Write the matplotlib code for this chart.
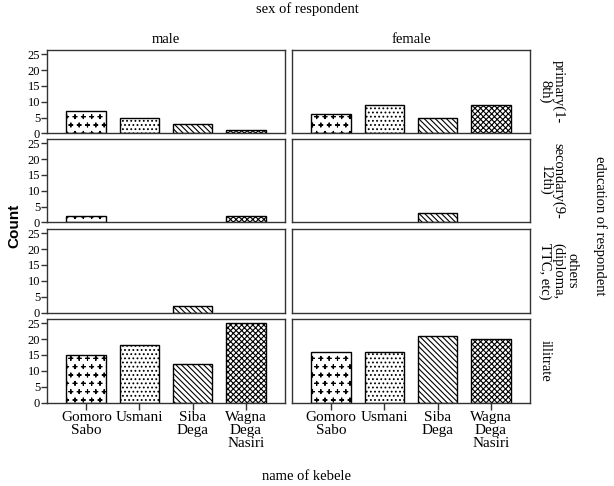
import warnings
import matplotlib.pyplot as plt
import matplotlib.hatch as mhatch
from matplotlib.path import Path
import numpy as np

warnings.filterwarnings('ignore')
plt.rcParams['font.family'] = ['Liberation Serif', 'DejaVu Serif']
plt.rcParams['hatch.linewidth'] = 0.8


# spaced plus signs, like the SPSS pattern (not a grid)
class Pluses(mhatch.Shapes):
    filled = False
    size = 0.45

    def __init__(self, hatch, density):
        self.num_rows = hatch.count('p') * density
        self.shape_vertices = np.array([[-0.5, 0], [0.5, 0], [0, -0.5], [0, 0.5]])
        self.shape_codes = np.array([Path.MOVETO, Path.LINETO, Path.MOVETO, Path.LINETO],
                                    dtype=Path.code_type)
        super().__init__(hatch, density)


mhatch._hatch_types.append(Pluses)

kebeles = ['Gomoro\nSabo', 'Usmani', 'Siba\nDega', 'Wagna\nDega\nNasiri']
sexes = ['male', 'female']
education = ['primary(1-\n8th)', 'secondary(9-\n12th)', 'others\n(diploma,\nTTC, etc)', 'illitrate']

# rows = education level, values per kebele
male_counts = [[7, 5, 3, 1],
               [2, 0, 0, 2],
               [0, 0, 2, 0],
               [15, 18, 12, 25]]
female_counts = [[6, 9, 5, 9],
                 [0, 0, 3, 0],
                 [0, 0, 0, 0],
                 [16, 16, 21, 20]]
hatches = ['pp', '....', '\\' * 6, 'xxxxxx']

W, H = 614, 486
fig = plt.figure(figsize=(W / 100, H / 100), dpi=100)

col_x = [47, 292]
col_w = 238
row_y = [50, 139, 229, 319]
row_h = 83.5
edge = '#333333'

x = np.arange(len(kebeles))
for r in range(4):
    for c in range(2):
        vals = male_counts[r] if c == 0 else female_counts[r]
        ax = fig.add_axes([col_x[c] / W, 1 - (row_y[r] + row_h) / H, col_w / W, row_h / H])
        for i, v in enumerate(vals):
            if v > 0:
                ax.bar(x[i], v, width=0.75, color='white', edgecolor='black',
                       hatch=hatches[i], linewidth=1.0)
        ax.set_xlim(-0.74, 3.74)
        ax.set_ylim(0, 26.3)
        for s in ax.spines.values():
            s.set_color(edge)
            s.set_linewidth(1.0)
        if c == 0:
            ax.set_yticks([0, 5, 10, 15, 20, 25])
            ax.tick_params(axis='y', direction='out', length=4, width=1, color=edge,
                           labelsize=9, pad=1)
        else:
            ax.set_yticks([])
        if r == 3:
            ax.set_xticks(x)
            ax.set_xticklabels(kebeles, fontsize=11, linespacing=1.0)
            ax.tick_params(axis='x', direction='out', length=5, width=1, color=edge, pad=1)
        else:
            ax.set_xticks([])
        if c == 1:
            ax.text(1.035, 0.5, education[r], transform=ax.transAxes, rotation=270,
                    ha='left', va='center', fontsize=10.5, linespacing=1.0,
                    multialignment='center')
        if r == 0:
            ax.set_title(sexes[c], fontsize=10.5, pad=5)

fig.text(307 / W, 1 - 9 / H, 'sex of respondent', ha='center', va='center', fontsize=10.5)
fig.text(307 / W, 1 - 476 / H, 'name of kebele', ha='center', va='center', fontsize=10.5)
fig.text(600 / W, 1 - 226 / H, 'education of respondent', ha='center', va='center',
         rotation=270, fontsize=10.5)
fig.text(14 / W, 1 - 226 / H, 'Count', ha='center', va='center', rotation=90,
         fontsize=11, fontweight='bold', family='Liberation Sans')

fig.savefig('out.png', dpi=100)
